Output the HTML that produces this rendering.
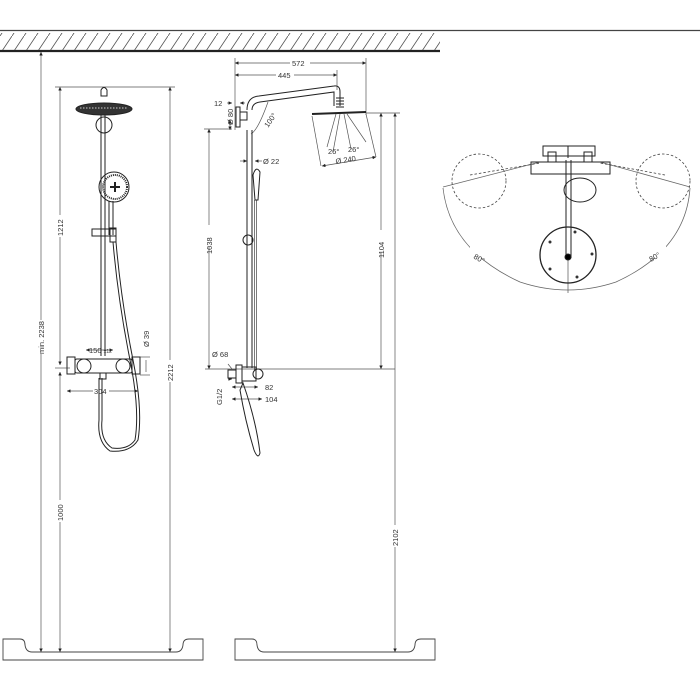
<!DOCTYPE html>
<html><head><meta charset="utf-8"><style>
html,body{margin:0;padding:0;background:#fff}
svg{display:block}
text{font-family:"Liberation Sans",sans-serif;font-size:7.5px;fill:#333}
</style></head><body>
<svg width="700" height="700" viewBox="0 0 700 700" xmlns="http://www.w3.org/2000/svg">
<defs>
<marker id="a" viewBox="0 0 6 6" refX="6" refY="3" markerWidth="5" markerHeight="5" orient="auto-start-reverse"><path d="M0,0L6,3L0,6Z" fill="#222"/></marker>
<pattern id="h" width="12" height="18" patternUnits="userSpaceOnUse"><line x1="0" y1="18" x2="12" y2="0" stroke="#555" stroke-width="0.8"/></pattern>
</defs>
<line x1="0" y1="30.5" x2="700" y2="30.5" stroke="#444" stroke-width="1.2"/>
<rect x="0" y="33" width="440" height="17" fill="url(#h)"/>
<line x1="0" y1="51" x2="440" y2="51" stroke="#222" stroke-width="2.2"/>
<g fill="none" stroke="#444" stroke-width="0.9">
<path d="M3,639H20Q25,639 25,645Q26,652 32,652H176Q182,652 183,645Q183,639 189,639H203V660H3Z"/>
<path d="M235,639H252Q257,639 257,645Q258,652 264,652H408Q414,652 415,645Q415,639 421,639H435V660H235Z"/>
</g>
<g stroke="#555" stroke-width="0.7" fill="none">
<line x1="41" y1="52" x2="41" y2="652" marker-start="url(#a)" marker-end="url(#a)"/>
<line x1="60" y1="87" x2="60" y2="365" marker-start="url(#a)" marker-end="url(#a)"/>
<line x1="60" y1="372" x2="60" y2="652" marker-start="url(#a)" marker-end="url(#a)"/>
<line x1="170" y1="87" x2="170" y2="652" marker-start="url(#a)" marker-end="url(#a)"/>
<line x1="55" y1="87" x2="175" y2="87"/>
<line x1="55" y1="368" x2="70" y2="368"/>
<line x1="86" y1="350" x2="113" y2="350" marker-start="url(#a)" marker-end="url(#a)"/>
<line x1="67" y1="391" x2="138" y2="391" marker-start="url(#a)" marker-end="url(#a)"/>
<line x1="146" y1="360" x2="146" y2="372"/>
<line x1="140" y1="357" x2="150" y2="357"/><line x1="140" y1="375" x2="150" y2="375"/>
</g>
<g fill="#fff" stroke="none">
<rect x="37" y="320" width="8" height="34"/><rect x="56" y="215" width="8" height="22"/>
<rect x="56" y="500" width="8" height="22"/><rect x="166" y="360" width="8" height="22"/>
<rect x="93" y="386" width="16" height="10"/><rect x="142" y="328" width="8" height="20"/>
</g>
<text transform="translate(44,354) rotate(-90)">min. 2238</text>
<text transform="translate(63,236) rotate(-90)">1212</text>
<text transform="translate(63,521) rotate(-90)">1000</text>
<text transform="translate(173,381) rotate(-90)">2212</text>
<text transform="translate(149,347) rotate(-90)">Ø 39</text>
<text x="89" y="353">150 <tspan font-size="5">±12</tspan></text>
<text x="94" y="394">304</text>
<g stroke="#222" fill="none" stroke-width="1">
<path d="M101,96V90Q104,85 107,90V96Z"/>
<ellipse cx="104" cy="109" rx="28" ry="6" fill="#333"/>
<line x1="80" y1="108" x2="128" y2="108" stroke="#fff" stroke-width="0.7" stroke-dasharray="1.5 1.5"/>
<circle cx="104" cy="125" r="8"/>
<path d="M101,115V356M105,115V356"/>
<circle cx="114" cy="187" r="15"/><circle cx="115" cy="187" r="12" stroke-width="2" stroke-dasharray="1 1"/>
<path d="M110,187h10M115,182v10" stroke-width="2"/>
<path d="M109,201L109,235M113,201L113,235"/>
<rect x="92" y="229" width="24" height="7"/>
<rect x="110" y="228" width="6" height="14"/>
<path d="M113,242Q118,300 130,360Q140,410 135,440Q128,450 112,448Q100,440 102,420V378"/>
<path d="M116,242Q121,300 133,360Q143,410 138,440Q130,453 110,451Q97,442 99,420V378"/>
<rect x="67" y="357" width="8" height="17"/><rect x="132" y="357" width="8" height="17"/>
<rect x="75" y="359" width="57" height="14" rx="2"/>
<circle cx="84" cy="366" r="7"/><circle cx="123" cy="366" r="7"/>
<rect x="100" y="373" width="6" height="6"/>
</g>
<g stroke="#555" stroke-width="0.7" fill="none">
<line x1="235" y1="63" x2="366" y2="63" marker-start="url(#a)" marker-end="url(#a)"/>
<line x1="235" y1="75" x2="337" y2="75" marker-start="url(#a)" marker-end="url(#a)"/>
<line x1="235" y1="58" x2="235" y2="130"/><line x1="366" y1="58" x2="366" y2="115"/>
<line x1="337" y1="70" x2="337" y2="90"/>
<line x1="227" y1="103" x2="232" y2="103" marker-end="url(#a)"/><line x1="245" y1="103" x2="240" y2="103" marker-end="url(#a)"/>
<line x1="230" y1="120" x2="230" y2="130" marker-start="url(#a)" marker-end="url(#a)"/>
<line x1="209" y1="129" x2="209" y2="369" marker-start="url(#a)" marker-end="url(#a)"/>
<line x1="204" y1="129" x2="232" y2="129"/>
<line x1="381" y1="113" x2="381" y2="369" marker-start="url(#a)" marker-end="url(#a)"/>
<line x1="395" y1="113" x2="395" y2="652" marker-start="url(#a)" marker-end="url(#a)"/>
<line x1="366" y1="113" x2="400" y2="113"/>
<line x1="205" y1="369" x2="395" y2="369"/>
<line x1="240" y1="161" x2="247" y2="161" marker-end="url(#a)"/><line x1="262" y1="161" x2="255" y2="161" marker-end="url(#a)"/>
<line x1="322" y1="166" x2="376" y2="157" marker-start="url(#a)" marker-end="url(#a)"/>
<line x1="228" y1="379" x2="232" y2="379" marker-end="url(#a)"/><line x1="228" y1="364" x2="232" y2="369"/>
<line x1="232" y1="387" x2="258" y2="387" marker-start="url(#a)" marker-end="url(#a)"/>
<line x1="232" y1="399" x2="262" y2="399" marker-start="url(#a)" marker-end="url(#a)"/>
<path d="M251,134Q258,130 268,102"/>
<path d="M336,114L327,147M340,114L333,152M344,114L351,149M347,114L366,142"/>
<line x1="312" y1="116" x2="321" y2="166"/><line x1="366" y1="114" x2="376" y2="157"/>
</g>
<g fill="#fff"><rect x="205" y="225" width="8" height="22"/><rect x="377" y="230" width="8" height="22"/><rect x="391" y="525" width="8" height="22"/><rect x="290" y="59" width="20" height="8"/><rect x="276" y="71" width="18" height="8"/></g>
<text x="214" y="106">12</text>
<text transform="translate(233,125) rotate(-90)" font-size="6">Ø 80</text>
<text transform="translate(212,254) rotate(-90)">1038</text>
<text transform="translate(384,258) rotate(-90)">1104</text>
<text transform="translate(398,546) rotate(-90)">2102</text>
<text x="292" y="66">572</text><text x="278" y="78">445</text>
<text transform="translate(268,128) rotate(-55)">100°</text>
<text x="263" y="164">Ø 22</text>
<text x="336" y="164" transform="rotate(-9 336 164)">Ø 240</text>
<text x="328" y="154" font-size="6.5">26°</text><text x="348" y="152" font-size="6.5">26°</text>
<text x="212" y="357">Ø 68</text>
<text transform="translate(222,405) rotate(-90)">G1/2</text>
<text x="265" y="390">82</text><text x="265" y="402">104</text>
<g stroke="#222" fill="none" stroke-width="1">
<path d="M247,130V368M252,130V368"/>
<path d="M247,110Q247,97 259,96L334,86Q340,85 340,92V106M252,110Q252,103 260,102L334,92V106"/>
<path d="M336,98h8M336,101h8M336,104h8M336,107h8"/>
<rect x="236" y="107" width="4" height="20"/><rect x="240" y="112" width="7" height="8"/>
<line x1="312" y1="114" x2="366" y2="112" stroke-width="2"/>
<path d="M253,175Q256,165 260,172L258,200H255Z"/>
<circle cx="248" cy="240" r="5"/>
<path d="M254.5,200V370M256.5,200V370" stroke-width="0.6"/>
<rect x="236" y="365" width="6" height="18"/><rect x="228" y="370" width="8" height="8"/>
<rect x="242" y="367" width="14" height="14"/><circle cx="258" cy="374" r="5"/>
<path d="M243,383Q256,420 260,453Q258,460 254,450Q245,420 240,390Z"/>
</g>
<g stroke="#666" stroke-width="0.8" fill="none">
<path d="M443,188Q450,250 520,282Q568,298 616,282Q686,250 690,188" />
<line x1="443" y1="187" x2="540" y2="162"/><line x1="690" y1="187" x2="600" y2="162"/>
<line x1="568" y1="260" x2="568" y2="293"/>
<g stroke-dasharray="2.5 2" stroke="#444"><circle cx="479" cy="181" r="27"/><circle cx="663" cy="181" r="27"/>
<line x1="470" y1="175" x2="540" y2="163"/><line x1="665" y1="175" x2="600" y2="163"/></g>
</g>
<g fill="#fff"><rect x="470" y="244" width="20" height="14"/><rect x="646" y="244" width="20" height="14"/></g>
<text transform="translate(473,258) rotate(30)" font-size="10">80°</text>
<text transform="translate(651,262) rotate(-30)" font-size="10">80°</text>
<g stroke="#222" fill="none" stroke-width="1">
<rect x="543" y="146" width="52" height="10"/><rect x="531" y="162" width="79" height="12"/>
<rect x="548" y="152" width="8" height="10"/><rect x="584" y="152" width="8" height="10"/>
<path d="M568,146V158"/>
<path d="M566,160V258M571,160V258"/>
<ellipse cx="580" cy="190" rx="16" ry="12"/>
<circle cx="568" cy="255" r="28" stroke-width="1.3"/>
<circle cx="568" cy="257" r="3" fill="#000"/>
</g>
<g fill="#333"><circle cx="550" cy="242" r="1.5"/><circle cx="575" cy="232" r="1.5"/><circle cx="592" cy="254" r="1.5"/><circle cx="550" cy="269" r="1.5"/><circle cx="577" cy="277" r="1.5"/></g>
</svg>
</body></html>
